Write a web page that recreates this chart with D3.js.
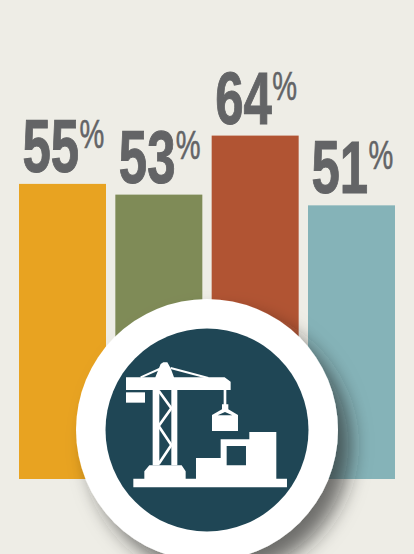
<!DOCTYPE html>
<html>
<head>
<meta charset="utf-8">
<script src="https://cdn.jsdelivr.net/npm/d3@7"></script>
<style>
    html, body { margin: 0; padding: 0; background: #eeede6; overflow: hidden; }
    svg { display: block; }
    .num, .pct { font-family: "Liberation Sans Narrow", "Liberation Sans", sans-serif; fill: #636466; stroke: #636466; }
    .num { font-weight: bold; font-size: 75px; stroke-width: 1.1px; }
    .pct { font-size: 41px; stroke-width: 0.6px; }
</style>
</head>
<body>
<div id="chart"></div>
<script>
// values
const categories = ["a", "b", "c", "d"];
const values = [55, 53, 64, 51];
const barColors = ["#e8a321", "#7f8b57", "#b15433", "#85b3b8"];

const width = 414, height = 554;

let svg = d3.select("#chart").append("svg")
    .attr("width", width)
    .attr("height", height);

let x = d3.scaleBand()
    .domain(categories)
    .range([19, 395])
    .paddingInner(0.097);

let y = d3.scaleLinear()
    .domain([0, 64])
    .range([479, 135.6]);

// bars
svg.selectAll("rect.bar")
    .data(values)
    .enter().append("rect")
    .attr("class", "bar")
    .attr("x", (d, i) => x(categories[i]))
    .attr("y", d => y(d))
    .attr("width", x.bandwidth())
    .attr("height", d => y(0) - y(d))
    .attr("fill", (d, i) => barColors[i]);

// labels, narrowed to get the condensed look
let labels = svg.selectAll("g.label")
    .data(values)
    .enter().append("g")
    .attr("class", "label")
    .attr("transform", (d, i) => `translate(${x(categories[i]) + 3.5}, ${y(d) - 12})`);

labels.append("text")
    .attr("class", "num")
    .attr("transform", "scale(0.68, 1)")
    .text(d => d);

labels.append("text")
    .attr("class", "pct")
    .attr("transform", "translate(57, -24) scale(0.68, 1)")
    .text("%");

// badge
let defs = svg.append("defs");
let shadow = defs.append("filter")
    .attr("id", "badgeShadow")
    .attr("x", "-30%").attr("y", "-30%")
    .attr("width", "170%").attr("height", "170%");
shadow.append("feGaussianBlur").attr("in", "SourceAlpha").attr("stdDeviation", 10);
shadow.append("feOffset").attr("dx", 13).attr("dy", 15).attr("result", "off");
shadow.append("feFlood").attr("flood-color", "#222").attr("flood-opacity", 0.62);
shadow.append("feComposite").attr("in2", "off").attr("operator", "in");
let merge = shadow.append("feMerge");
merge.append("feMergeNode");
merge.append("feMergeNode").attr("in", "SourceGraphic");

svg.append("circle")
    .attr("cx", 207).attr("cy", 430).attr("r", 131)
    .attr("fill", "#fff")
    .attr("filter", "url(#badgeShadow)");

svg.append("circle")
    .attr("cx", 207).attr("cy", 430).attr("r", 101.5)
    .attr("fill", "#1f4655");

// crane icon, drawn at 3x and scaled down
let icon = svg.append("g")
    .attr("transform", "translate(100, 340) scale(0.3333)");

// base, tower feet and building with its window
icon.append("path")
    .attr("fill", "#fff")
    .attr("fill-rule", "evenodd")
    .attr("d", "M100 442V416H133V394L148 376H245L257 394V416H288V354H362V298H448V276H529V416H561V442Z M380 318H438V376H380Z");

// jib and cab
icon.append("path")
    .attr("fill", "#fff")
    .attr("d", "M78 112H166L182 72L190 67H202L212 85L222 112H374L392 125V150H78Z");

// counterweight
icon.append("rect")
    .attr("x", 78).attr("y", 157).attr("width", 57).attr("height", 31)
    .attr("fill", "#fff");

// tower legs
icon.append("path")
    .attr("fill", "#fff")
    .attr("d", "M158 150H178V376H158Z M214 150H232V376H214Z");

// lines: stays, bracing, cable
icon.append("path")
    .attr("fill", "none")
    .attr("stroke", "#fff")
    .attr("stroke-width", 8)
    .attr("d", "M176 152L214 205L176 258L214 315L176 372");
icon.append("path")
    .attr("fill", "none")
    .attr("stroke", "#fff")
    .attr("stroke-width", 6)
    .attr("d", "M185 84L122 112 M212 84L325 114");
icon.append("path")
    .attr("fill", "none")
    .attr("stroke", "#fff")
    .attr("stroke-width", 8)
    .attr("d", "M375 150V195");

// hook and load
icon.append("path")
    .attr("fill", "#fff")
    .attr("fill-rule", "evenodd")
    .attr("d", "M366 193H385V208L414 225V273H336V225L366 208Z M375 216L353 226H397Z");
</script>
</body>
</html>
